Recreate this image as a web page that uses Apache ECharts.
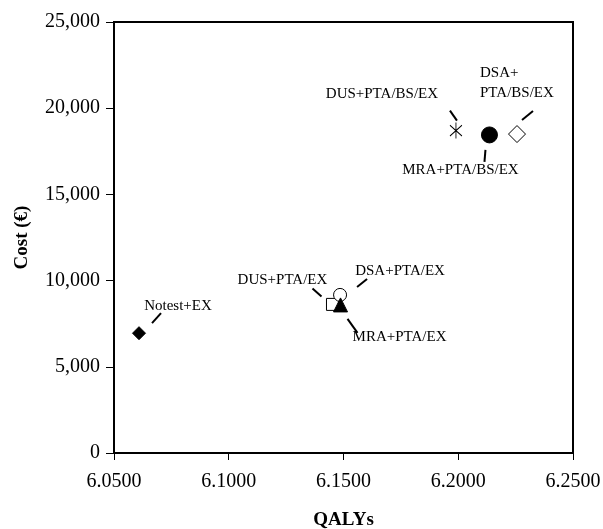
<!DOCTYPE html>
<html>
<head>
<meta charset="utf-8">
<script src="https://cdn.jsdelivr.net/npm/echarts@6/dist/echarts.min.js"></script>
<style>
  html, body { margin: 0; padding: 0; background: #fff; }
  #main { width: 603px; height: 529px; }
</style>
</head>
<body>
<div id="main"></div>
<script>
    // strategies, QALYs (x) and cost in euro (y)
    var strategies = ['Notest+EX', 'DUS+PTA/EX', 'DSA+PTA/EX', 'MRA+PTA/EX',
        'DUS+PTA/BS/EX', 'DSA+\nPTA/BS/EX', 'MRA+PTA/BS/EX'];
    var qalys = [6.0609, 6.1452, 6.1485, 6.1487, 6.1990, 6.2256, 6.2136];
    var costs = [6950, 8620, 9170, 8590, 18700, 18500, 18450];

    var xTicks = [6.05, 6.10, 6.15, 6.20, 6.25];
    var yTicks = [0, 5000, 10000, 15000, 20000, 25000];

    var asterisk = 'path://M0,2L10,10M10,2L0,10M5,0L5,12';
    var markers = [
        { symbol: 'diamond', size: 13, fill: '#000' },
        { symbol: 'rect', size: 12, fill: '#fff' },
        { symbol: 'circle', size: 13, fill: '#fff' },
        { symbol: 'triangle', size: 14, fill: '#000' },
        { symbol: asterisk, size: [12, 16], fill: 'none' },
        { symbol: 'diamond', size: 17, fill: '#fff' },
        { symbol: 'circle', size: 16, fill: '#000' }
    ];
    // label offsets from the marker, in pixels
    var offsets = [[39, -27], [-50, -24], [60, -24], [59, 32], [-74, -37], [-37, -51], [-29, 35]];
    // leader segment ends relative to the marker, in pixels
    var leaders = [[13, -10, 22, -20], [-20, -16, -11, -8], [17, -8, 27, -16], [7, 14, 17, 28],
        [-6, -20, 1, -10], [5, -14, 16, -23], [-4, 15, -5, 27]];

    var data = strategies.map(function (s, i) {
        return {
            name: s,
            value: [qalys[i], costs[i]],
            symbol: markers[i].symbol,
            symbolSize: markers[i].size,
            itemStyle: {
                color: markers[i].fill,
                borderColor: '#000',
                borderWidth: 1,
                opacity: 1
            },
            label: { align: i === 5 ? 'left' : 'center' }
        };
    });

    var myChart = echarts.init(document.getElementById('main'));
    var font = 'Liberation Serif';

    var option = {
        backgroundColor: '#fff',
        animation: false,
        grid: {
            left: 114,
            right: 30,
            top: 22,
            bottom: 76,
            outerBoundsMode: 'none',
            containLabel: false,
            show: true,
            borderColor: '#000',
            borderWidth: 2
        },
        xAxis: {
            type: 'value',
            min: 6.05,
            max: 6.25,
            interval: 0.05,
            name: 'QALYs',
            nameLocation: 'middle',
            nameGap: 58,
            nameTextStyle: { fontFamily: font, fontSize: 19, fontWeight: 'bold', color: '#000' },
            axisLine: { lineStyle: { color: '#000', width: 2 } },
            axisTick: { show: true, length: 7, lineStyle: { color: '#000' } },
            axisLabel: {
                margin: 19,
                fontFamily: font,
                fontSize: 20,
                color: '#000',
                formatter: function (v) { return v.toFixed(4); }
            },
            splitLine: { show: false }
        },
        yAxis: {
            type: 'value',
            min: 0,
            max: 25000,
            interval: 5000,
            name: 'Cost (€)',
            nameLocation: 'middle',
            nameGap: 82,
            nameTextStyle: { fontFamily: font, fontSize: 19, fontWeight: 'bold', color: '#000' },
            axisLine: { lineStyle: { color: '#000', width: 2 } },
            axisTick: { show: true, length: 8, lineStyle: { color: '#000' } },
            axisLabel: {
                margin: 14,
                fontFamily: font,
                fontSize: 20,
                color: '#000',
                formatter: function (v) { return v.toLocaleString('en-US'); }
            },
            splitLine: { show: false }
        },
        series: [{
            type: 'custom',
            silent: true,
            data: qalys.map(function (q, i) { return [q, costs[i]]; }),
            renderItem: function (params, api) {
                var p = api.coord([api.value(0), api.value(1)]);
                var l = leaders[params.dataIndex];
                return {
                    type: 'line',
                    shape: { x1: p[0] + l[0], y1: p[1] + l[1], x2: p[0] + l[2], y2: p[1] + l[3] },
                    style: { stroke: '#000', lineWidth: 2 }
                };
            }
        }, {
            type: 'scatter',
            data: data,
            label: {
                show: true,
                position: 'inside',
                formatter: '{b}',
                fontFamily: font,
                fontSize: 15,
                color: '#000',
                lineHeight: 20
            },
            labelLayout: function (params) {
                var o = offsets[params.dataIndex];
                return { dx: o[0], dy: o[1] };
            }
        }]
    };
    myChart.setOption(option);

    window.addEventListener('resize', function () {
        myChart.resize();
    });
</script>
</body>
</html>
